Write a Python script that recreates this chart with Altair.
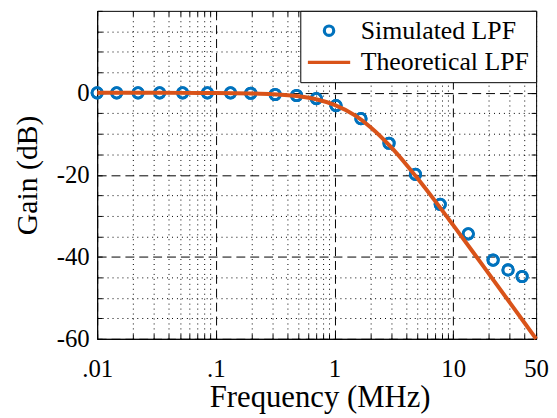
import altair as alt
import pandas as pd

# ---- data ----
sim_freq = [0.01, 0.0146, 0.0221, 0.0336, 0.0525, 0.0849, 0.133, 0.197, 0.316, 0.479,
            0.703, 1.03, 1.67, 2.88, 4.81, 7.78, 13.4, 21.7, 29.0, 38.1]
sim_gain = [0, 0, 0, 0, 0, 0, 0, -0.1, -0.4, -0.65,
            -1.4, -3.1, -6.3, -12.3, -19.9, -27.2, -34.4, -40.8, -43.2, -44.8]

theo_freq = [0.01, 0.02, 0.05, 0.1, 0.2, 0.3, 0.5, 0.7, 1, 1.5, 2, 3, 4, 5, 7,
             10, 15, 20, 30, 40, 50]
theo_gain = [0, 0, -0.01, -0.03, -0.14, -0.31, -0.83, -1.56, -2.93, -5.58, -8.31,
             -13.26, -17.4, -20.84, -26.29, -32.27, -39.19, -44.15, -51.16, -56.15, -60.0]

series_names = ["Simulated LPF", "Theoretical LPF"]
series_colors = ["#0072BD", "#D95319"]
series_shapes = ["circle", "M-4.5,0H4.5"]

x_label_values = [0.01, 0.1, 1, 10, 50]
x_label_text = [".01", ".1", "1", "10", "50"]
x_major = [0.01, 0.1, 1, 10]
x_decades = [0.01, 0.1, 1, 10]

y_label_values = [0, -20, -40, -60]
y_label_text = ["0", "-20", "-40", "-60"]
y_major = [-60, -40, -20, 0]

# tick positions (1..9 per decade, up to 50)
x_tick_values = []
for d in x_decades:
    for k in range(1, 10):
        v = round(k * d, 6)
        if v <= 50:
            x_tick_values.append(v)
y_tick_values = list(range(-60, 16, 5))
y_inner_ticks = list(range(-60, 21, 5))

x_expr = "".join(f"datum.value == {v} ? '{t}' : " for v, t in zip(x_label_values, x_label_text)) + "''"
y_expr = "".join(f"datum.value == {v} ? '{t}' : " for v, t in zip(y_label_values, y_label_text)) + "''"

sim_df = pd.DataFrame({"freq": sim_freq, "gain": sim_gain, "series": series_names[0]})
theo_df = pd.DataFrame({"freq": theo_freq, "gain": theo_gain, "series": series_names[1]})

FONT = "'Times New Roman', 'Liberation Serif', 'DejaVu Serif', serif"
W, H = 443, 331

x_scale = alt.Scale(type="log", domain=[0.01, 50], nice=False)
y_scale = alt.Scale(domain=[-60, 20], nice=False)

MAJOR_DASH = [9, 5]
MINOR_DASH = [1, 4]
TICK = 5

x_axis = alt.Axis(
    values=x_tick_values, labelExpr=x_expr, grid=True,
    gridDash={"condition": {"test": f"indexof({x_major}, datum.value) >= 0", "value": MAJOR_DASH},
              "value": MINOR_DASH},
    gridColor="black", gridWidth=1, gridOpacity=1,
    ticks=False, domainColor="black", domainWidth=1,
    labelFont=FONT, labelFontSize=25, labelColor="black", labelPadding=18,
    labelFlush=False, labelOverlap=False,
    title="Frequency (MHz)", titleFont=FONT, titleFontSize=31, titleFontWeight="normal",
    titleColor="black", titleBaseline="top", titleY=44, titleX=W / 2 + 3,
)
y_axis = alt.Axis(
    values=y_tick_values, labelExpr=y_expr, grid=True,
    gridDash={"condition": {"test": f"indexof({y_major}, datum.value) >= 0", "value": MAJOR_DASH},
              "value": MINOR_DASH},
    gridColor="black", gridWidth=1, gridOpacity=1,
    ticks=False, domainColor="black", domainWidth=1,
    labelFont=FONT, labelFontSize=25, labelColor="black", labelPadding=8,
    labelFlush=False, labelOverlap=False,
    title="Gain (dB)", titleFont=FONT, titleFontSize=30, titleFontWeight="normal",
    titleColor="black", titleAngle=270, titleBaseline="alphabetic", titleX=-61, titleY=H / 2,
)


def tick_axis(orient, offset, values):
    # axis used only for the inward-pointing box ticks
    return alt.Axis(orient=orient, offset=offset, values=values, labels=False, domain=False,
                    grid=False, ticks=True, tickSize=TICK, tickColor="black", tickWidth=1,
                    title=None)


legend = alt.Legend(
    title=None, orient="top-right", offset=0, padding=7,
    fillColor="white", strokeColor="black",
    labelFont=FONT, labelFontSize=26, labelColor="black", labelLimit=400,
    labelOffset=19, symbolOffset=9, rowPadding=6,
    symbolSize=90, symbolStrokeWidth=3.2,
)

color_enc = alt.Color("series:N", scale=alt.Scale(domain=series_names, range=series_colors), legend=legend)
shape_enc = alt.Shape("series:N", scale=alt.Scale(domain=series_names, range=series_shapes), legend=legend)

PT_SIZE = 110
PT_STROKE = 2.8

# simulated points, with the labelled axes
points = alt.Chart(sim_df).mark_point(filled=False, strokeWidth=PT_STROKE, size=PT_SIZE, opacity=1).encode(
    x=alt.X("freq:Q", scale=x_scale, axis=x_axis),
    y=alt.Y("gain:Q", scale=y_scale, axis=y_axis),
    color=color_enc,
    shape=shape_enc,
)

# same points again, carrying inward ticks along the top and right edges
points_ticks = alt.Chart(sim_df).mark_point(filled=False, strokeWidth=PT_STROKE, size=PT_SIZE, opacity=1).encode(
    x=alt.X("freq:Q", scale=x_scale, axis=tick_axis("bottom", -H, x_tick_values)),
    y=alt.Y("gain:Q", scale=y_scale, axis=tick_axis("left", -W, y_inner_ticks)),
    color=color_enc,
    shape=shape_enc,
)

# theoretical curve, carrying inward ticks along the bottom and left edges
line = alt.Chart(theo_df).mark_line(strokeWidth=4, interpolate="monotone").encode(
    x=alt.X("freq:Q", scale=x_scale, axis=tick_axis("top", -H, x_tick_values)),
    y=alt.Y("gain:Q", scale=y_scale, axis=tick_axis("right", -W, y_inner_ticks)),
    color=color_enc,
)

chart = alt.layer(points, points_ticks, line).resolve_axis(
    x="independent", y="independent"
).properties(
    width=W, height=H,
    padding={"top": 0, "left": 5, "right": 0, "bottom": 0},
    background="white",
).configure_view(stroke="black", strokeWidth=1)

chart.save("out.html", embed_options={"renderer": "svg", "actions": False})
